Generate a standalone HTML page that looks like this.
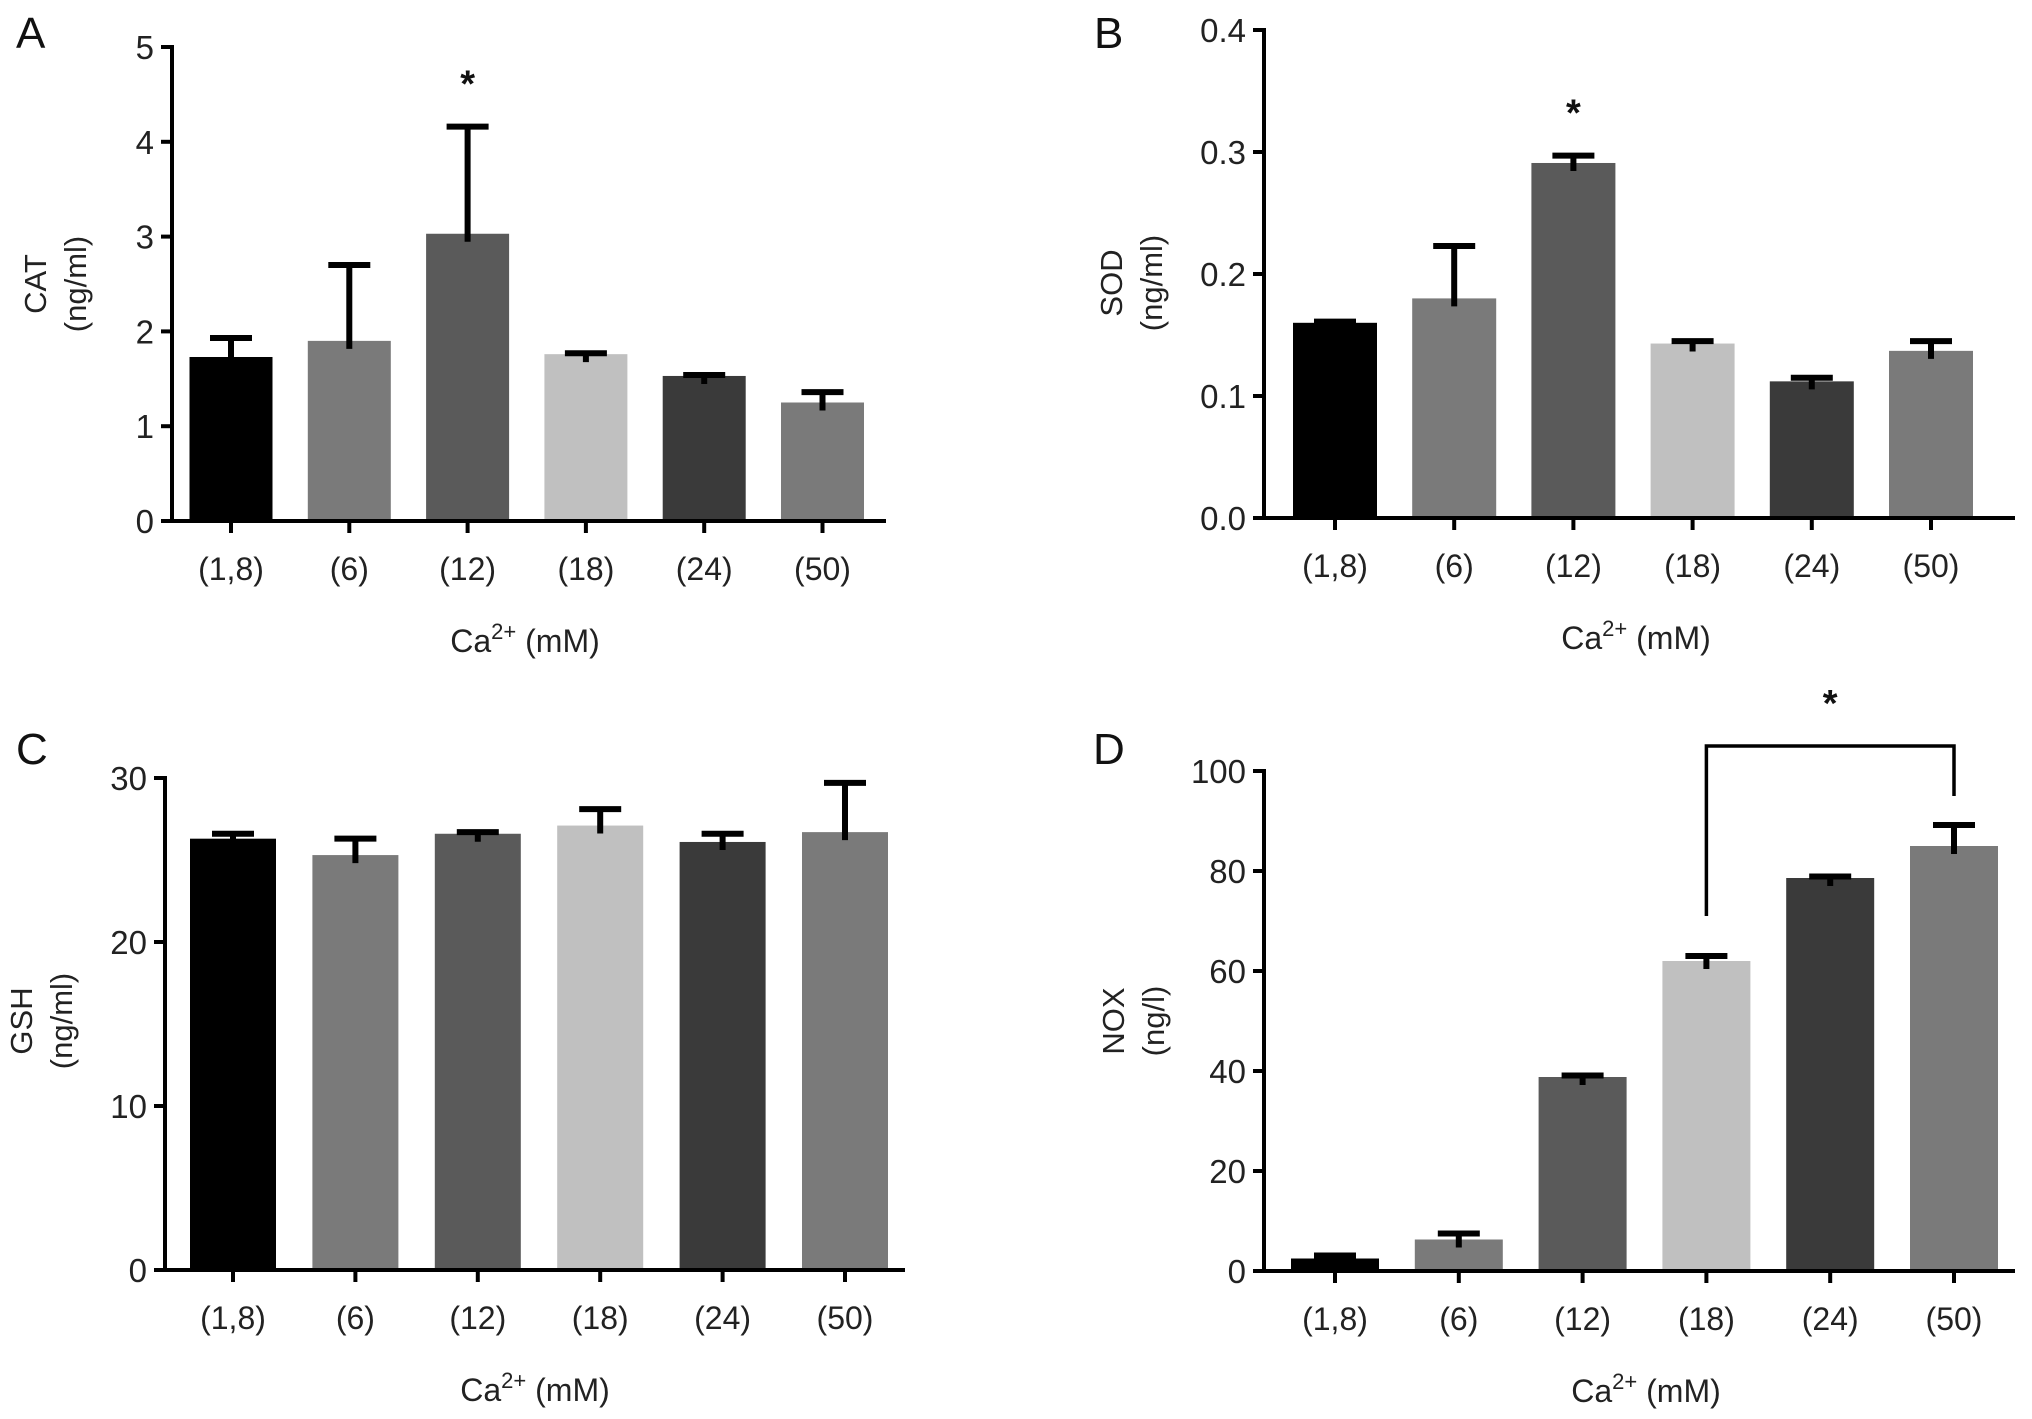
<!DOCTYPE html>
<html><head><meta charset="utf-8"><style>
html,body{margin:0;padding:0;background:#fff;}
svg{display:block;font-family:"Liberation Sans",Arial,sans-serif;}
</style></head><body>
<svg id="chart" width="2032" height="1419" viewBox="0 0 2032 1419" xmlns="http://www.w3.org/2000/svg"></svg>
<script>
const categories = ["(1,8)","(6)","(12)","(18)","(24)","(50)"];
const colors = ["#000000","#7a7a7a","#5a5a5a","#c0c0c0","#3a3a3a","#7a7a7a"];
const catValues = [1.73,1.90,3.03,1.76,1.53,1.25];
const catErrors = [0.20,0.80,1.13,0.01,0.01,0.11];
const catTicks = [0,1,2,3,4,5];
const sodValues = [0.160,0.180,0.291,0.143,0.112,0.137];
const sodErrors = [0.001,0.043,0.006,0.002,0.003,0.008];
const sodTicks = ["0.0","0.1","0.2","0.3","0.4"];
const gshValues = [26.3,25.3,26.6,27.1,26.1,26.7];
const gshErrors = [0.3,1.0,0.1,1.0,0.5,3.0];
const gshTicks = [0,10,20,30];
const noxValues = [2.5,6.3,38.8,62.0,78.6,85.0];
const noxErrors = [0.6,1.2,0.3,1.0,0.3,4.2];
const noxTicks = [0,20,40,60,80,100];
const catStars = [2];
const sodStars = [2];

const NS="http://www.w3.org/2000/svg";
const svg=document.getElementById('chart');
function mk(tag,attrs,parent){const e=document.createElementNS(NS,tag);for(const k in attrs)e.setAttribute(k,attrs[k]);(parent||svg).appendChild(e);return e;}

function panel(cfg){
  const g=mk('g',{});
  
  
  const ticks=cfg.ticks.map(Number);
  const ymin=ticks[0], ymax=ticks[ticks.length-1];
  const y=v=>cfg.y0-(v-ymin)/(ymax-ymin)*(cfg.y0-cfg.yTop);
  const step=cfg.step||(cfg.xEnd-cfg.x0)/categories.length;
  const first=cfg.first||(cfg.x0+step*0.5);
  const xc=i=>first+step*i+cfg.shift;
  const bw=cfg.bw||step*0.70;
  cfg.values.forEach((v,i)=>{
    const r=mk('rect',{x:xc(i)-bw/2,y:y(v),width:bw,height:cfg.y0-y(v),fill:colors[i]},g);
    
    
    const top=y(v+cfg.errors[i]);
    const e=mk('path',{d:`M${xc(i)} ${y(v)+8}V${top}M${xc(i)-21} ${top}H${xc(i)+21}`,stroke:'#000','stroke-width':6,fill:'none'},g);
    
    
  });
  const ax=mk('path',{d:`M${cfg.x0} ${cfg.yTop-2}V${cfg.y0}H${cfg.xEnd}`,stroke:'#000','stroke-width':4,fill:'none'},g);
  
  
  cfg.ticks.forEach(t=>{
    const yy=y(Number(t));
    mk('line',{x1:cfg.x0-11,x2:cfg.x0,y1:yy,y2:yy,stroke:'#000','stroke-width':4},g);
    const tx=mk('text',{x:cfg.x0-18,y:yy+12,'text-anchor':'end','font-size':33,fill:'#222'},g);
    tx.textContent=t;
    
    
  });
  categories.forEach((c,i)=>{
    mk('line',{x1:xc(i),x2:xc(i),y1:cfg.y0,y2:cfg.y0+12,stroke:'#000','stroke-width':4},g);
    const tx=mk('text',{x:xc(i),y:cfg.y0+59,'text-anchor':'middle','font-size':32,fill:'#222'},g);
    tx.textContent=c;
    
    
  });
  const xt=mk('text',{x:cfg.xTitleX,y:cfg.y0+131,'text-anchor':'middle','font-size':32,fill:'#222'},g);
  xt.innerHTML='Ca<tspan dy="-13" font-size="22">2+</tspan><tspan dy="13"> (mM)</tspan>';
  
  
  const yt=mk('text',{transform:`translate(${cfg.yTitleX},${cfg.yTitleY}) rotate(-90)`,'text-anchor':'middle','font-size':31,fill:'#222'},g);
  yt.innerHTML=`<tspan x="0" y="0">${cfg.ytitle}</tspan><tspan x="0" y="40">${cfg.yunit}</tspan>`;
  
  
  const lt=mk('text',{x:cfg.letterX,y:cfg.letterY,'font-size':44,fill:'#111'},g);
  lt.textContent=cfg.letter;
  
  
  (cfg.stars||[]).forEach(i=>{
    const s=mk('text',{x:xc(i),y:y(cfg.values[i]+cfg.errors[i])-30,'text-anchor':'middle','font-size':38,'font-weight':'bold',fill:'#111'},g);
    s.textContent='*';
    
    
  });
  return {y,xc,g};
}

panel({name:'panel-a-cat',key:'cat',x0:172,xEnd:886,y0:521,yTop:47,shift:0,first:231,step:118.3,bw:83,ticks:catTicks,values:catValues,errors:catErrors,ytitle:'CAT',yunit:'(ng/ml)',yTitleX:46,yTitleY:284,xTitleX:525,letter:'A',letterX:16,letterY:48,stars:catStars});
panel({name:'panel-b-sod',key:'sod',x0:1264,xEnd:2015,y0:518,yTop:30,shift:0,first:1335,step:119.2,bw:84,ticks:sodTicks,values:sodValues,errors:sodErrors,ytitle:'SOD',yunit:'(ng/ml)',yTitleX:1122,yTitleY:283,xTitleX:1636,letter:'B',letterX:1094,letterY:48,stars:sodStars});
panel({name:'panel-c-gsh',key:'gsh',x0:165,xEnd:905,y0:1270,yTop:778,shift:0,first:233,step:122.4,bw:86,ticks:gshTicks,values:gshValues,errors:gshErrors,ytitle:'GSH',yunit:'(ng/ml)',yTitleX:32,yTitleY:1021,xTitleX:535,letter:'C',letterX:16,letterY:764});
const d=panel({name:'panel-d-nox',key:'nox',x0:1264,xEnd:2015,y0:1271,yTop:771,shift:0,first:1335,step:123.8,bw:88,ticks:noxTicks,values:noxValues,errors:noxErrors,ytitle:'NOX',yunit:'(ng/l)',yTitleX:1124,yTitleY:1021,xTitleX:1646,letter:'D',letterX:1093,letterY:764});
const bracketLevels=[71,105,95];
const br=mk('path',{d:`M${d.xc(3)} ${d.y(bracketLevels[0])}V${d.y(bracketLevels[1])}H${d.xc(5)}V${d.y(bracketLevels[2])}`,stroke:'#000','stroke-width':3.5,fill:'none'},d.g);


const st=mk('text',{x:(d.xc(3)+d.xc(5))/2,y:d.y(bracketLevels[1])-30,'text-anchor':'middle','font-size':38,'font-weight':'bold',fill:'#111'},d.g);
st.textContent='*';


</script>
</body></html>
